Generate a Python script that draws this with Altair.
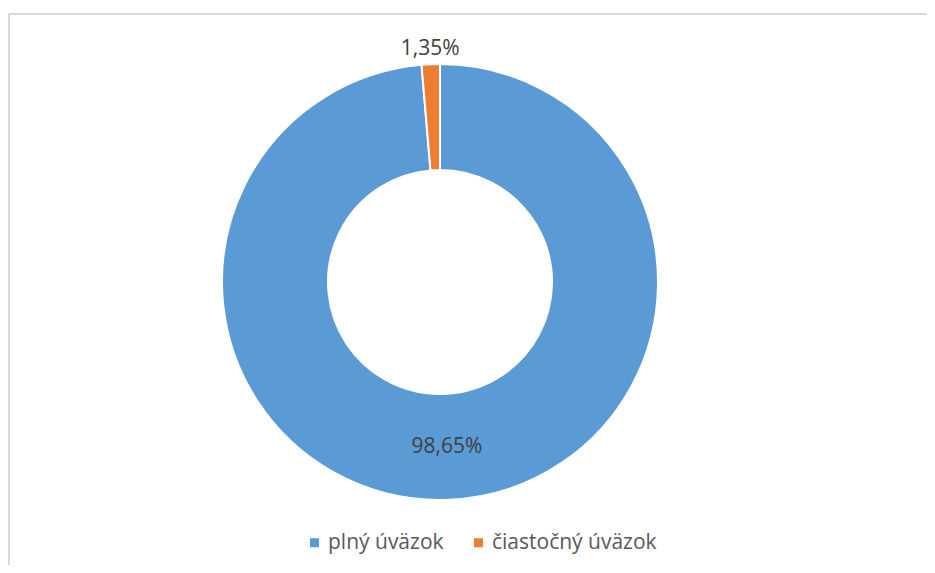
import altair as alt
import pandas as pd

categories = ["plný úväzok", "čiastočný úväzok"]
values = [98.65, 1.35]
labels = ["98,65%", "1,35%"]
order = [0, 1]

df = pd.DataFrame({"cat": categories, "value": values, "label": labels, "ord": order})

CX, CY = 432, 274
colors = ["#5B9BD5", "#ED7D31"]
FONT = "Open Sans"

base = alt.Chart(df)

arcs = base.mark_arc(innerRadius=112, outerRadius=218, stroke="white", strokeWidth=2).encode(
    theta=alt.Theta("value:Q", stack=True),
    order=alt.Order("ord:Q"),
    color=alt.Color(
        "cat:N",
        scale=alt.Scale(domain=categories, range=colors),
        sort=categories,
        legend=alt.Legend(
            title=None,
            orient="none",
            legendX=296,
            legendY=524,
            direction="horizontal",
            symbolType="square",
            symbolSize=81,
            symbolStrokeWidth=0,
            labelFontSize=21,
            labelFont=FONT,
            labelColor="#595959",
            labelOffset=3,
            labelLimit=400,
            columnPadding=24,
            padding=0,
        ),
    ),
    x=alt.value(CX),
    y=alt.value(CY),
)

stacked = base.transform_window(
    v1="sum(value)", sort=[alt.SortField("ord")], frame=[None, 0]
).transform_calculate(
    mid="datum.v1 - datum.value / 2"
)

def label_layer(cat, r):
    return stacked.transform_filter(alt.datum.cat == cat).mark_text(
        font=FONT, fontSize=21, color="#404040"
    ).encode(
        theta=alt.Theta("mid:Q", stack=None, scale=alt.Scale(domain=[0, 100], range=[0, 6.283185307179586])),
        radius=alt.value(r),
        text="label:N",
        x=alt.value(CX),
        y=alt.value(CY),
    )

lab_big = label_layer(categories[0], 165)
lab_small = label_layer(categories[1], 233)

frame_left = alt.Chart(df.head(1)).mark_rule(color="#d9d9d9", strokeWidth=2).encode(
    x=alt.value(1), y=alt.value(5), y2=alt.value(600)
)
frame_top = alt.Chart(df.head(1)).mark_rule(color="#d9d9d9", strokeWidth=2).encode(
    x=alt.value(0), x2=alt.value(940), y=alt.value(6)
)

chart = alt.layer(frame_left, frame_top, arcs, lab_big, lab_small).properties(
    width=919, height=557, padding=0, autosize=alt.AutoSizeParams(type="none")
).configure_view(stroke=None)

chart.save("out.html", embed_options={"renderer": "svg", "actions": False})
